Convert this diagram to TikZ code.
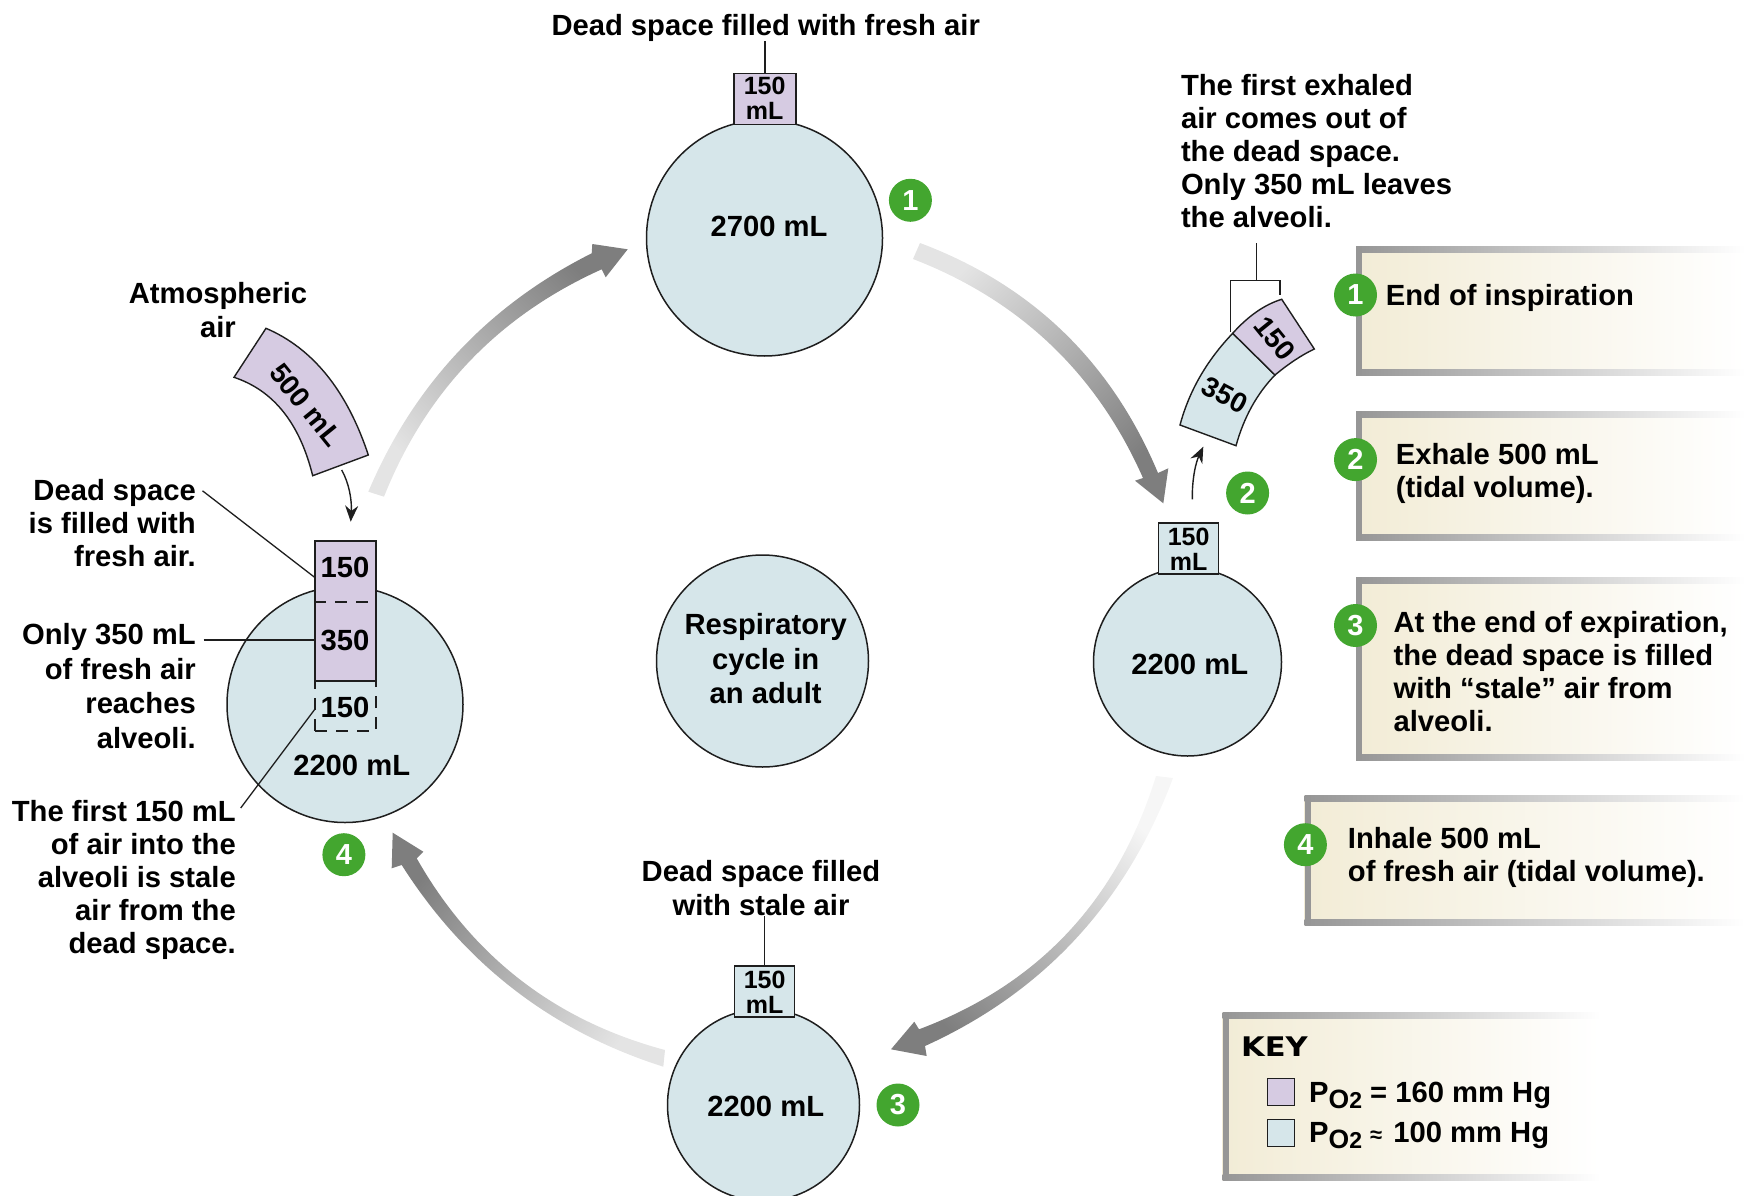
\documentclass[tikz,border=0pt]{standalone}
\usepackage{fontspec}
\setmainfont{Liberation Sans}
\newfontfamily\keyfam{DejaVu Sans}
\usetikzlibrary{arrows.meta}
\definecolor{lung}{HTML}{D6E6EA}
\definecolor{fresh}{HTML}{D6CBE2}
\definecolor{ink}{HTML}{1E1E1E}
\definecolor{stepgreen}{HTML}{43A62F}
\definecolor{panelbg}{HTML}{F2ECD6}
\definecolor{panelrim}{HTML}{969696}
\definecolor{arrowdark}{HTML}{7E7E7E}
\definecolor{arrowmid}{HTML}{8C8C8C}
\definecolor{arrowmidlight}{HTML}{9A9A9A}
\definecolor{arrowtail}{HTML}{E4E4E4}
\definecolor{arrowtailpale}{HTML}{F6F6F6}
\newcommand\lblfont{\fontsize{29.2}{33}\selectfont\bfseries}
\newcommand\lblwide{\fontsize{29.2}{34.5}\selectfont\bfseries}
\newcommand\tubefont{\fontsize{25}{25}\selectfont\bfseries}
\newcommand\segfont{\fontsize{28}{30}\selectfont\bfseries}
\newcommand\subO{\raisebox{-6pt}{\fontsize{26.5}{26}\selectfont O\fontsize{23}{23}\selectfont 2}}
\newcommand\panelbox[4]{%
  \shade[left color=panelbg,right color=white] (#1,#2) rectangle (#3,#4);
  \shade[left color=panelrim,right color=white] (#1,#2) rectangle (#3,#2+6);
  \shade[left color=panelrim,right color=white] (#1,#4-6) rectangle (#3,#4);
  \fill[panelrim] (#1,#2) rectangle (#1+6,#4);
}
\tikzset{
  lbl/.style={font=\lblfont,inner sep=0pt,text=black},
  lblw/.style={font=\lblwide,inner sep=0pt,text=black},
  lung circle/.style={circle,draw=ink,line width=1.5pt,fill=lung,inner sep=0pt},
  tube/.style={rectangle,draw=ink,line width=1.4pt,inner sep=0pt,font=\tubefont,align=center},
  stepdot/.style={circle,fill=stepgreen,text=white,inner sep=0pt,minimum size=43pt,font=\fontsize{29}{29}\selectfont\bfseries},
  leader/.style={draw=ink,line width=1.3pt},
  segment/.style={draw=ink,line width=1.4pt},
  smallarrow/.style={draw=ink,line width=1.4pt,-{Stealth[length=16pt,width=13pt]}},
  bigarrow/.style={top color=arrowdark,middle color=arrowmid,bottom color=arrowtail},
  bigarrowpale/.style={top color=arrowdark,middle color=arrowmidlight,bottom color=arrowtailpale},
  swatch/.style={rectangle,draw=ink,line width=1.2pt,minimum width=27pt,minimum height=27pt,inner sep=0pt}
}
\begin{document}
\begin{tikzpicture}[x=1pt,y=-1pt]
\path[use as bounding box] (0,0) rectangle (1745,1196);
\clip (0,0) rectangle (1745,1196);

% panels
\panelbox{1356}{246}{1745}{375}
\panelbox{1356}{411}{1745}{540}
\panelbox{1356}{577}{1745}{760}
\panelbox{1304.5}{795}{1745}{925}
\panelbox{1222.5}{1012}{1600}{1180}

% big cycle arrows
\shade[bigarrow,shading angle=225]
  (920,243) .. controls (1032,285) and (1111.3,361.7) .. (1158,473) -- (1168.3,468.3) -- (1163.3,503.3)
  -- (1135,480.7) -- (1143,478) .. controls (1096.7,373.3) and (1020,300.3) .. (913,259) -- cycle;
\shade[bigarrow,shading angle=315]
  (368.3,491.7) .. controls (413.6,384.9) and (488,305.4) .. (591.7,253.3) -- (592.3,244) -- (627.7,249.3)
  -- (605.7,277.3) -- (601.7,269.3) .. controls (498.4,315.8) and (425.9,391.6) .. (384,496.7) -- cycle;
\shade[bigarrowpale,shading angle=135]
  (1173,778) .. controls (1126.2,902.9) and (1043.5,992.2) .. (925,1046) -- (926.7,1056) -- (891,1049.3)
  -- (914.3,1021.7) -- (919,1029.3) .. controls (1038.7,984.4) and (1117.7,900) .. (1156,776) -- cycle;
\shade[bigarrow,shading angle=52]
  (665,1050) .. controls (555.4,1020.7) and (472.6,956.8) .. (416.7,858.3) -- (423.3,851.7) -- (392.7,832.7)
  -- (391.7,868.3) -- (401.7,865) .. controls (464.5,963.9) and (551.7,1031.2) .. (663.3,1066.7) -- cycle;

% lung circles
\node[lung circle,minimum size=236pt] (c1) at (764.5,238) {};
\node[lung circle,minimum size=188pt] (c2) at (1187.5,662) {};
\node[lung circle,minimum size=192pt] (c3) at (763.5,1105) {};
\node[lung circle,minimum size=236pt] (c4) at (345,704.5) {};
\node[lung circle,minimum size=212pt] (c5) at (762.5,661) {};

% dead-space tubes
\node[tube,fill=fresh,minimum width=62pt,minimum height=51pt] (t1) at (765,99) {};
\node[tube,fill=lung,minimum width=60pt,minimum height=51pt] (t2) at (1188.5,548.5) {};
\node[tube,fill=lung,minimum width=60pt,minimum height=51pt] (t3) at (764.5,991.5) {};
\node[rectangle,draw=ink,line width=1.3pt,dashed,dash pattern=on 12pt off 9pt,minimum width=61pt,minimum height=50pt,inner sep=0pt] (t4low) at (345.5,706) {};
\node[tube,fill=fresh,minimum width=61pt,minimum height=140pt] (t4) at (345.5,611) {};
\draw[ink,line width=1.2pt,dash pattern=on 12pt off 9pt] (t4.west |- 0,602) coordinate (d1) -- (t4.east |- d1);

% tube texts
\node[font=\tubefont,inner sep=0pt,align=center] (t1txt) at (764.6,98.5) {150\\mL};
\node[font=\tubefont,inner sep=0pt,align=center] (t2txt) at (1188.6,549) {150\\mL};
\node[font=\tubefont,inner sep=0pt,align=center] (t3txt) at (764.6,992.5) {150\\mL};
\node[lbl] (n150a) at (345,567.6) {150};
\node[lbl] (n350) at (345,640) {350};
\node[lbl] (n150b) at (345,707) {150};

% volumes
\node[lbl] (v1) at (769,226) {2700 mL};
\node[lbl] (v2) at (1189.7,664.4) {2200 mL};
\node[lbl] (v3) at (765.7,1106) {2200 mL};
\node[lbl] (v4) at (351.7,765.7) {2200 mL};
\node[lblw,align=center] (centre) at (765.7,659) {Respiratory\\cycle in\\an adult};

% labels
\node[lbl] (title) at (765.7,27.5) {Dead space filled with fresh air};
\node[lbl,align=left,anchor=west] (exh) at (1180.8,151.4) {The first exhaled\\air comes out of\\the dead space.\\Only 350 mL leaves\\the alveoli.};
\node[lblw,align=center] (atm) at (218,310) {Atmospheric\\air};
\node[lbl,align=right,anchor=east] (ds) at (196,523) {Dead space\\is filled with\\fresh air.};
\node[lblw,align=right,anchor=east] (only) at (196,686) {Only 350 mL\\of fresh air\\reaches\\alveoli.};
\node[lbl,align=right,anchor=east] (first) at (236,880) {The first 150 mL\\of air into the\\alveoli is stale\\air from the\\dead space.};
\node[lblw,align=center] (stale) at (761,888) {Dead space filled\\with stale air};

% stems
\draw[leader] (title.south -| t1.north) -- (t1.north);
\draw[leader] (stale.south -| t3.north) -- (t3.north);
\coordinate (ldsA) at (202.5,490.8);
\coordinate (ldsB) at (315,577.6);
\draw[leader] (ldsA) -- (ldsB);
\coordinate (lonA) at (203.7,640);
\draw[leader] (lonA) -- (t4.west |- lonA);
\coordinate (lfiA) at (240.7,808);
\coordinate (lfiB) at (315,709);
\draw[leader] (lfiA) -- (lfiB);

% exhaled segment
\path[segment,fill=lung] (1180,425) .. controls (1189.1,391.1) and (1206.6,360.6) .. (1232.7,333.3) -- (1275,375)
  .. controls (1256.9,393.7) and (1243.9,417.2) .. (1236,445.7) -- cycle;
\path[segment,fill=fresh] (1232.7,333.3) .. controls (1248.4,315.8) and (1264.7,304.5) .. (1281.7,299.3) -- (1314.3,349)
  .. controls (1301.7,355) and (1288.6,363.7) .. (1275,375) -- cycle;
\node[font=\segfont,inner sep=0pt,rotate=-51] (s150) at (1275,338.3) {150};
\node[font=\segfont,inner sep=0pt,rotate=-28] (s350) at (1225,395) {350};
% bracket
\coordinate (br1) at (1230.7,331.7);
\coordinate (br2) at (1230.7,280.7);
\coordinate (br3) at (1280,280.7);
\coordinate (br4) at (1280,295);
\coordinate (br5) at (1256.7,280.7);
\coordinate (br6) at (1256.7,243);
\draw[leader] (br1) -- (br2) -- (br3) -- (br4);
\draw[leader] (br5) -- (br6);
% exhale arrow
\coordinate (ea1) at (1192.3,499.3);
\coordinate (ea2) at (1203.3,446.7);
\draw[smallarrow] (ea1) .. controls (1192,478) and (1196,462) .. (ea2);

% atmospheric segment
\path[segment,fill=fresh] (266,328.3) .. controls (312.8,348.3) and (347,390.6) .. (368.3,455) -- (312.7,475.7)
  .. controls (299.7,423.2) and (273.5,390.4) .. (234,377.3) -- cycle;
\node[font=\segfont,inner sep=0pt,rotate=-51] (s500) at (306,405) {500 mL};
\coordinate (ia1) at (341.7,470);
\coordinate (ia2) at (350.7,521.7);
\draw[smallarrow] (ia1) .. controls (349,483) and (352,500) .. (ia2);

% step dots
\node[stepdot] (d1a) at (910.4,200.3) {1};
\node[stepdot] (d2a) at (1247.6,493) {2};
\node[stepdot] (d3a) at (898,1105) {3};
\node[stepdot] (d4a) at (343.9,854.7) {4};
\node[stepdot] (d1b) at (1355.5,295) {1};
\node[stepdot] (d2b) at (1355.5,459.6) {2};
\node[stepdot] (d3b) at (1355.5,625.5) {3};
\node[stepdot] (d4b) at (1305.4,844.7) {4};

% panel texts
\node[lbl,anchor=west] (p1) at (1385.6,298) {End of inspiration};
\node[lbl,align=left,anchor=west] (p2) at (1395.6,473) {Exhale 500 mL\\(tidal volume).};
\node[lbl,align=left,anchor=west] (p3) at (1393.4,672) {At the end of expiration,\\the dead space is filled\\with “stale” air from\\alveoli.};
\node[lbl,align=left,anchor=west] (p4) at (1347.7,857.5) {Inhale 500 mL\\of fresh air (tidal volume).};

% key
\node[inner sep=0pt,anchor=west,xscale=1.13,font=\keyfam\fontsize{27}{27}\selectfont\bfseries] (keyt) at (1241,1047) {KEY};
\node[swatch,fill=fresh] (sw1) at (1281,1092) {};
\node[swatch,fill=lung] (sw2) at (1281,1133) {};
\node[lbl,anchor=west] (k1) at (1309,1095) {P\subO{} = 160 mm Hg};
\node[lbl,anchor=west] (k2) at (1309,1135.5) {P\subO{} {\fontsize{22}{22}\selectfont ≈}\hspace{3pt} 100 mm Hg};
\end{tikzpicture}
\end{document}
